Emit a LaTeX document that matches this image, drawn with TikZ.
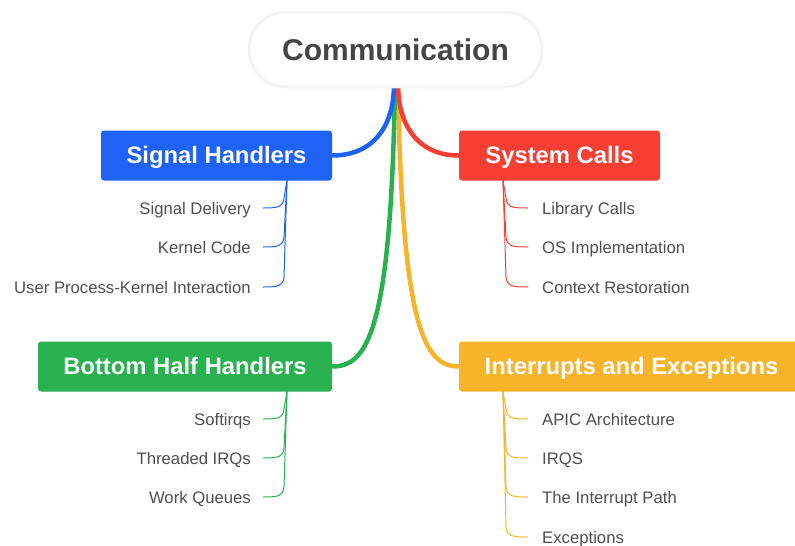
\documentclass[tikz,border=0pt]{standalone}
\usepackage{fontspec}
\setmainfont{Liberation Sans}
\usetikzlibrary{calc}
\definecolor{cblue}{HTML}{1F63F6}
\definecolor{cred}{HTML}{F73E33}
\definecolor{cgreen}{HTML}{29B14F}
\definecolor{corange}{HTML}{F7B42A}
\definecolor{ctext}{HTML}{4F4F4F}
\definecolor{croot}{HTML}{454545}
\begin{document}
\begin{tikzpicture}[x=1pt,y=-1pt,
  branch/.style={rounded corners=3pt, text=white, font=\fontsize{23.8}{28}\selectfont\bfseries, minimum height=50pt, inner sep=0pt, text height=17pt, text depth=2pt},
  leaf/.style={text=ctext, font=\fontsize{16.7}{20}\selectfont, inner sep=0pt, text height=12pt, text depth=0pt},
  trunk/.style={line width=4.5pt},
  twig/.style={line width=1pt}]
\useasboundingbox (0,0) rectangle (795,546);
\clip (0,0) rectangle (795,546);
\fill[white] (0,0) rectangle (795,546);

% branch boxes
\node[branch, fill=cblue, minimum width=231pt] (sh) at (216.5,155.5) {Signal Handlers};
\node[branch, fill=cred, minimum width=201pt] (sc) at (559.5,155.5) {System Calls};
\node[branch, fill=cgreen, minimum width=294pt] (bh) at (185,366.5) {Bottom Half Handlers};
\node[branch, fill=corange, minimum width=345pt] (ie) at (631.5,366.5) {Interrupts and Exceptions};

% trunks
\coordinate (rb) at (396,84);
\draw[trunk, corange] ($(rb)+(2,0)$) .. controls (402,330) and (425,366.5) .. (ie.west);
\draw[trunk, cgreen] ($(rb)+(-1,0)$) .. controls (391,330) and (368,366.5) .. (bh.east);
\draw[trunk, cred] ($(rb)+(2,0)$) .. controls (398,128) and (420,155.5) .. (sc.west);
\draw[trunk, cblue] ($(rb)+(-2,0)$) .. controls (394,128) and (372,155.5) .. (sh.east);

% root
\node[fill=white, draw=black!5, line width=2.5pt, rounded corners=37pt, minimum width=293pt, minimum height=75pt,
      font=\fontsize{30}{36}\selectfont\bfseries, text=croot, text height=22pt, text depth=1pt] (root) at (395.5,49.5) {Communication};

% leaves: Signal Handlers
\coordinate (shb) at (287,180.5);
\node[leaf, anchor=east] (sd) at (251,208) {Signal Delivery};
\node[leaf, anchor=east] (kc) at (251,247) {Kernel Code};
\node[leaf, anchor=east] (up) at (251,287) {User Process-Kernel Interaction};
\foreach \c in {sd,kc,up}{
  \draw[twig, cblue] (shb) -- ($(shb|-\c.east)+(-3,-10)$) .. controls ($(shb|-\c.east)+(-4,-1)$) and ($(shb|-\c.east)+(-8,0)$) .. ($(\c.east)+(12,0)$);
}

% leaves: System Calls
\coordinate (scb) at (503,180.5);
\node[leaf, anchor=west] (lc) at (542,208) {Library Calls};
\node[leaf, anchor=west] (os) at (542,247) {OS Implementation};
\node[leaf, anchor=west] (cr) at (542,287) {Context Restoration};
\foreach \c in {lc,os,cr}{
  \draw[twig, cred] (scb) -- ($(scb|-\c.west)+(3,-10)$) .. controls ($(scb|-\c.west)+(4,-1)$) and ($(scb|-\c.west)+(8,0)$) .. ($(\c.west)+(-14,0)$);
}

% leaves: Bottom Half Handlers
\coordinate (bhb) at (287,391.5);
\node[leaf, anchor=east] (si) at (251,419) {Softirqs};
\node[leaf, anchor=east] (ti) at (251,458) {Threaded IRQs};
\node[leaf, anchor=east] (wq) at (251,497) {Work Queues};
\foreach \c in {si,ti,wq}{
  \draw[twig, cgreen] (bhb) -- ($(bhb|-\c.east)+(-3,-10)$) .. controls ($(bhb|-\c.east)+(-4,-1)$) and ($(bhb|-\c.east)+(-8,0)$) .. ($(\c.east)+(12,0)$);
}

% leaves: Interrupts and Exceptions
\coordinate (ieb) at (503,391.5);
\node[leaf, anchor=west] (ap) at (542,419) {APIC Architecture};
\node[leaf, anchor=west] (iq) at (542,458) {IRQS};
\node[leaf, anchor=west] (tp) at (542,497) {The Interrupt Path};
\node[leaf, anchor=west] (ex) at (542,537) {Exceptions};
\foreach \c in {ap,iq,tp,ex}{
  \draw[twig, corange] (ieb) -- ($(ieb|-\c.west)+(3,-10)$) .. controls ($(ieb|-\c.west)+(4,-1)$) and ($(ieb|-\c.west)+(8,0)$) .. ($(\c.west)+(-14,0)$);
}
\end{tikzpicture}
\end{document}
